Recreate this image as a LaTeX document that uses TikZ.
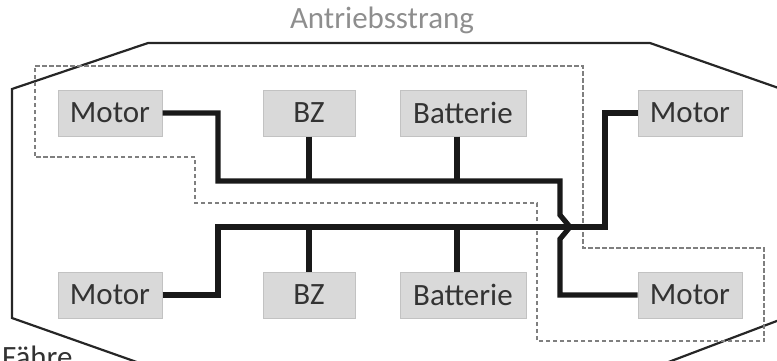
\documentclass[tikz,border=0pt]{standalone}
\usepackage{xcolor}
\usepackage{fontspec}
\setmainfont{Carlito}
\usepackage{tikz}
\usetikzlibrary{positioning, calc}
\definecolor{boxfill}{HTML}{D9D9D9}
\definecolor{boxline}{HTML}{C2C2C2}
\definecolor{textdark}{HTML}{333333}
\definecolor{dashgray}{HTML}{7F7F7F}
\definecolor{labelgray}{HTML}{8E8E8E}

\begin{document}
\begin{tikzpicture}[x=1pt, y=-1pt,
  box/.style={draw=boxline, fill=boxfill, line width=1pt, minimum height=46pt, inner sep=0pt, text=textdark, font=\fontsize{31}{36}\selectfont},
  bus/.style={line width=5.2pt, black!90},
  hull/.style={line width=2.2pt, black!85},
  group/.style={dashgray, line width=2.2pt, dash pattern=on 4.5pt off 2.5pt},
]
\useasboundingbox (0,0) rectangle (777,360);

% Ferry hull
\draw[hull] (12,89) -- (148,43) -- (650,43) -- (790,92) -- (790,316) -- (658,366) -- (148,366) -- (12,318) -- cycle;
\node[text=labelgray, font=\fontsize{31}{36}\selectfont] (strang) at (382,20) {Antriebsstrang};
\node[anchor=base west, text=textdark, font=\fontsize{31}{36}\selectfont, inner sep=0pt] (faehre) at (2,367) {Fähre};

% Drive train group
\draw[group] (35,66) -- (583,66) -- (583,248) -- (764,248) -- (764,341) -- (537,341) -- (537,203) -- (195,203) -- (195,157) -- (35,157) -- cycle;

% Top row
\node[box, minimum width=104pt] (mot1) at (110,113) {Motor};
\node[box, minimum width=92pt] (bz1) at (309,113) {BZ};
\node[box, minimum width=126pt] (bat1) at (463,113) {Batterie};
\node[box, minimum width=104pt] (mot2) at (690,113) {Motor};

% Bottom row
\node[box, minimum width=104pt] (mot3) at (110,295) {Motor};
\node[box, minimum width=92pt] (bz2) at (309,295) {BZ};
\node[box, minimum width=126pt] (bat2) at (463,295) {Batterie};
\node[box, minimum width=104pt] (mot4) at (690,295) {Motor};

% Bus corners
\coordinate (ul) at (218,181);
\coordinate (ur) at (560,181);
\coordinate (ll) at (218,227);
\coordinate (lr) at (605,227);
\coordinate (hop) at (570,227);

% Upper bus
\draw[bus] (mot1.east) -| (ul) -- (ur) -- (560,215) -- (hop) -- (560,239) |- (mot4.west);
\draw[bus] (bz1.south) -- (bz1.south |- ul);
\draw[bus] ([xshift=-6pt]bat1.south) -- ([xshift=-6pt]bat1.south |- ul);

% Lower bus
\draw[bus] (mot3.east) -| (ll) -- (lr) |- (mot2.west);
\draw[bus] (bz2.north) -- (bz2.north |- ll);
\draw[bus] ([xshift=-6pt]bat2.north) -- ([xshift=-6pt]bat2.north |- ll);

\end{tikzpicture}
\end{document}
